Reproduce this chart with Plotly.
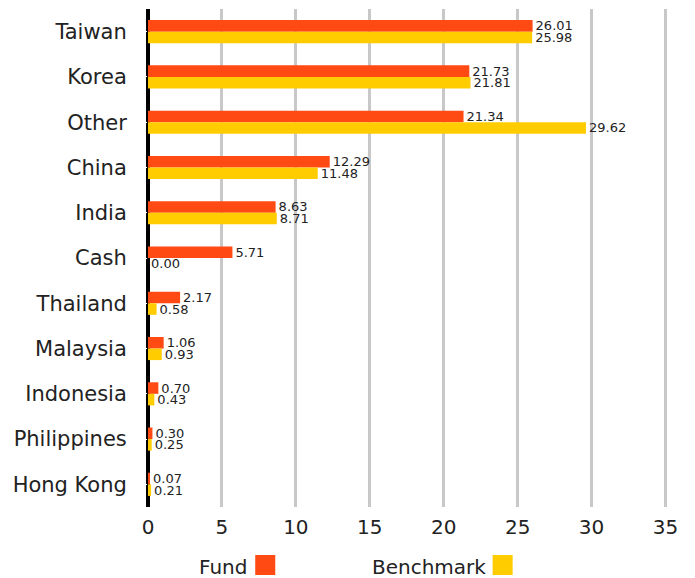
import plotly.graph_objects as go

categories = ["Taiwan", "Korea", "Other", "China", "India", "Cash", "Thailand",
              "Malaysia", "Indonesia", "Philippines", "Hong Kong"]
fund = [26.01, 21.73, 21.34, 12.29, 8.63, 5.71, 2.17, 1.06, 0.70, 0.30, 0.07]
benchmark = [25.98, 21.81, 29.62, 11.48, 8.71, 0.00, 0.58, 0.93, 0.43, 0.25, 0.21]
x_ticks = [0, 5, 10, 15, 20, 25, 30, 35]

FUND_COLOR = "#FF4A14"
BENCH_COLOR = "#FFCC00"
FONT = "DejaVu Sans, sans-serif"

fig = go.Figure()
for name, vals, color in [("Fund", fund, FUND_COLOR), ("Benchmark", benchmark, BENCH_COLOR)]:
    fig.add_trace(go.Bar(
        y=categories, x=vals, name=name, orientation="h",
        marker=dict(color=color, line=dict(width=0)),
        text=[f"{v:.2f}" for v in vals], textposition="outside",
        constraintext="none",
        textfont=dict(size=13, color="#222222", family=FONT),
        cliponaxis=False, showlegend=False, hoverinfo="skip",
    ))

fig.update_layout(
    width=695, height=578,
    margin=dict(l=148, r=28, t=9, b=71, autoexpand=False),
    barmode="group", bargap=0.49, bargroupgap=0,
    plot_bgcolor="white", paper_bgcolor="white",
    font=dict(family=FONT, color="#222222"),
    xaxis=dict(
        range=[0, 35.1], tickvals=x_ticks, ticktext=[str(t) for t in x_ticks],
        showgrid=True, gridcolor="#C8C8C8", gridwidth=2.5,
        zeroline=True, zerolinecolor="black", zerolinewidth=4,
        tickfont=dict(size=20, color="#222222"),
        ticks="outside", ticklen=2, tickcolor="white",
        showline=False, automargin=False,
    ),
    yaxis=dict(
        categoryorder="array", categoryarray=categories,
        autorange="reversed",
        tickfont=dict(size=21, color="#222222"),
        ticks="outside", ticklen=16, tickcolor="white",
        showgrid=False, showline=False, zeroline=False, automargin=False,
    ),
)

# Legend (text followed by swatch) built as layout annotations/shapes
legend_items = [("Fund", FUND_COLOR, 0.0946, 0.2066), ("Benchmark", BENCH_COLOR, 0.4286, 0.664)]
for label, color, tx, sx in legend_items:
    fig.add_annotation(
        text=label, xref="paper", yref="paper", x=tx, y=-0.1205,
        xanchor="left", yanchor="middle", showarrow=False,
        font=dict(size=20, color="#222222", family=FONT),
    )
    fig.add_shape(
        type="rect", xref="paper", yref="paper",
        x0=sx, x1=sx + 0.0386, y0=-0.1365, y1=-0.0964,
        fillcolor=color, line=dict(width=0),
    )

fig.write_html("out.html", config={"displayModeBar": False},
               post_script="document.body.style.margin='0px';")
